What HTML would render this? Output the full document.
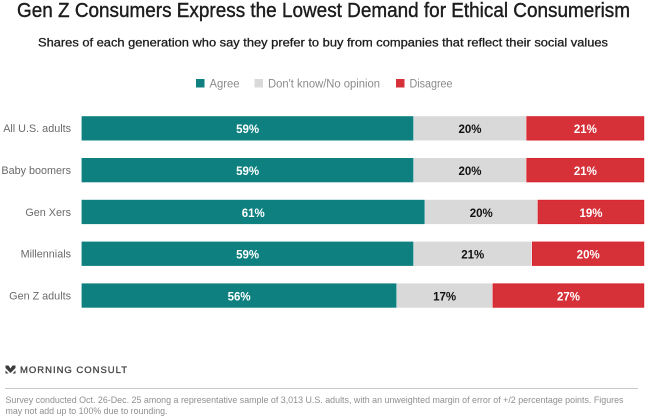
<!DOCTYPE html>
<html>
<head>
<meta charset="utf-8">
<style>
html,body{margin:0;padding:0;background:#fff;}
body{width:650px;height:418px;overflow:hidden;}
svg{display:block;font-family:"Liberation Sans",sans-serif;}
</style>
</head>
<body>
<svg id="chart" xmlns="http://www.w3.org/2000/svg" width="650" height="418" viewBox="0 0 650 418">
  <text x="17" y="17" font-size="20" fill="#1c1c1c" stroke="#1c1c1c" stroke-width="0.4" textLength="613" lengthAdjust="spacingAndGlyphs">Gen Z Consumers Express the Lowest Demand for Ethical Consumerism</text>
  <text x="38" y="46.500" font-size="12" fill="#1c1c1c" stroke="#1c1c1c" stroke-width="0.3" textLength="570" lengthAdjust="spacingAndGlyphs">Shares of each generation who say they prefer to buy from companies that reflect their social values</text>

  <g>
    <g>
      <rect x="196" y="79" width="8.500" height="8.500" fill="#0e8080"/>
      <text x="209.500" y="87.500" font-size="11.500" fill="#8b8b8b" textLength="30" lengthAdjust="spacingAndGlyphs">Agree</text>
    </g>
    <g>
      <rect x="254.500" y="79" width="8.500" height="8.500" fill="#d8d9d8"/>
      <text x="268" y="87.500" font-size="11.500" fill="#8b8b8b" textLength="112" lengthAdjust="spacingAndGlyphs">Don't know/No opinion</text>
    </g>
    <g>
      <rect x="396" y="79" width="8.500" height="8.500" fill="#d63038"/>
      <text x="409.500" y="87.500" font-size="11.500" fill="#8b8b8b" textLength="43" lengthAdjust="spacingAndGlyphs">Disagree</text>
    </g>
  </g>

  <g id="bars"></g>

  <g>
    <path d="M5.500 365.500 L8.500 365.500 L10.500 368.500 L12.500 365.500 L15.500 365.500 L15.500 368 L10.500 373 L5.500 368 Z M5.500 370.500 L8.500 373.500 L5.500 373.500 Z M15.500 370.500 L15.500 373.500 L12.500 373.500 Z" fill="#3c3c3c"/>
    <text x="20" y="373" font-size="9.500" fill="#444" stroke="#444" stroke-width="0.3" textLength="107" lengthAdjust="spacing">MORNING CONSULT</text>
  </g>
  <line x1="5" y1="388.500" x2="638" y2="388.500" stroke="#c9c9c9" stroke-width="1"/>
  <text x="5.500" y="403" font-size="9.500" fill="#8f8f8f" textLength="618" lengthAdjust="spacingAndGlyphs">Survey conducted Oct. 26-Dec. 25 among a representative sample of 3,013 U.S. adults, with an unweighted margin of error of +/2 percentage points. Figures</text>
  <text x="5.500" y="414" font-size="9.500" fill="#8f8f8f" textLength="162" lengthAdjust="spacingAndGlyphs">may not add up to 100% due to rounding.</text>
</svg>
<script>
const categories = ["All U.S. adults", "Baby boomers", "Gen Xers", "Millennials", "Gen Z adults"];
const agree = [59, 59, 61, 59, 56];
const dontKnow = [20, 20, 20, 21, 17];
const disagree = [21, 21, 19, 20, 27];

const SVG_NS = "http://www.w3.org/2000/svg";
const barsGroup = document.getElementById("bars");
const plotLeft = 81.5, plotRight = 644.5, plotTop = 116.2, rowStep = 41.8, barHeight = 24.3;
const xScale = function (v) { return plotLeft + (plotRight - plotLeft) * v / 100; };
const yScale = function (i) { return plotTop + rowStep * i; };

function addText(parent, x, y, str, size, fill, anchor, bold) {
  const t = document.createElementNS(SVG_NS, "text");
  t.setAttribute("x", x);
  t.setAttribute("y", y);
  t.setAttribute("font-size", size);
  t.setAttribute("fill", fill);
  t.setAttribute("text-anchor", anchor);
  if (bold) t.setAttribute("font-weight", "bold");
  t.textContent = str;
  parent.appendChild(t);
  return t;
}

const seriesList = [
  { key: "agree", values: agree, fill: "#0e8080", edge: "#0e8080", text: "#ffffff" },
  { key: "dont-know", values: dontKnow, fill: "#d8d9d8", edge: "#d8d9d8", text: "#111111" },
  { key: "disagree", values: disagree, fill: "#d63038", edge: "#d9222c", text: "#ffffff" }
];

categories.forEach(function (cat, i) {
  const y = yScale(i);
  const label = addText(barsGroup, 71, y + 16, cat, 10.8, "#6a6a6a", "end", false);
  
  
  let cum = 0;
  seriesList.forEach(function (s) {
    const v = s.values[i];
    const x0 = xScale(cum);
    const x1 = xScale(cum + v);
    const r = document.createElementNS(SVG_NS, "rect");
    r.setAttribute("x", x0 + 0.5);
    r.setAttribute("y", y + 0.4);
    r.setAttribute("width", x1 - x0 - 1.2);
    r.setAttribute("height", barHeight - 0.8);
    r.setAttribute("fill", s.fill);
    r.setAttribute("stroke", s.edge);
    r.setAttribute("stroke-width", 0.8);
    
    
    barsGroup.appendChild(r);
    const vt = addText(barsGroup, (x0 + x1) / 2, y + 17, v + "%", 11.5, s.text, "middle", true);
    
    
    cum += v;
  });
});
</script>
</body>
</html>
